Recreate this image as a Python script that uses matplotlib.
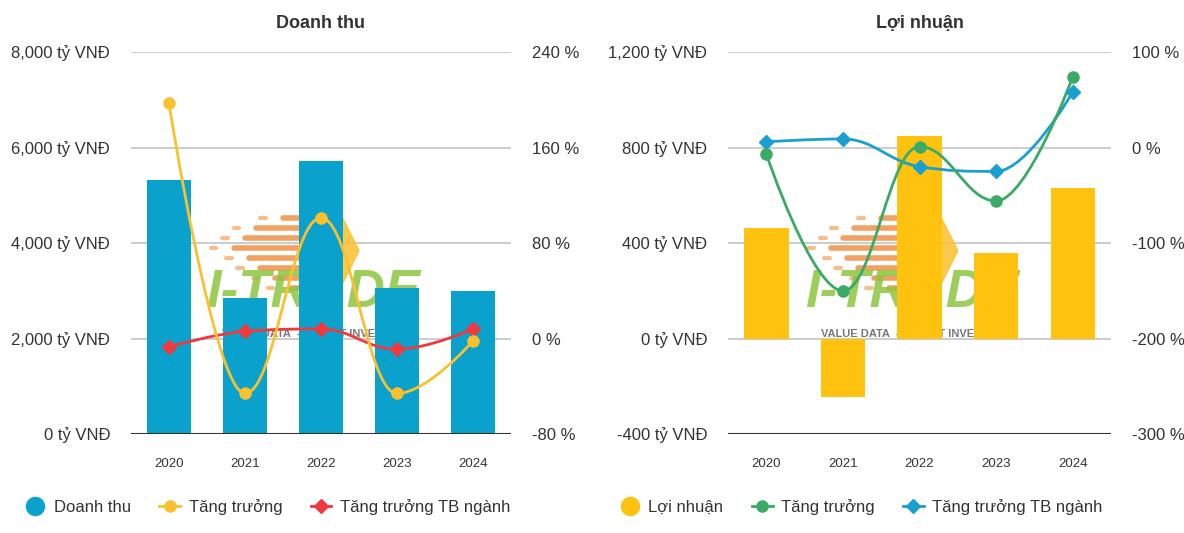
import numpy as np
import matplotlib
matplotlib.use("Agg")
import matplotlib.pyplot as plt
from matplotlib.path import Path
from matplotlib.patches import PathPatch, Polygon
from matplotlib.lines import Line2D

plt.rcParams["font.family"] = ["Liberation Sans", "DejaVu Sans"]

years = ["2020", "2021", "2022", "2023", "2024"]

# Doanh thu (ty VND) and growth (%)
revenue = [5320, 2850, 5720, 3060, 3000]
revenue_growth = [197, -46, 101, -46, -2]
revenue_industry = [-7, 6, 8, -9, 8]

# Loi nhuan (ty VND) and growth (%)
profit = [465, -243, 850, 360, 632]
profit_growth = [-7, -150, 1, -56, 74]
profit_industry = [6, 9, -20, -25, 58]

TEXT = "#333333"
GRID = "#c4c4c4"


def spline_path(xs, ys):
    # Highcharts-style spline through the points
    n = len(xs)
    lc = [(xs[i], ys[i]) for i in range(n)]
    rc = [(xs[i], ys[i]) for i in range(n)]
    for i in range(1, n - 1):
        x, y = xs[i], ys[i]
        lx, ly = xs[i - 1], ys[i - 1]
        nx, ny = xs[i + 1], ys[i + 1]
        lcx = (1.5 * x + lx) / 2.5
        lcy = (1.5 * y + ly) / 2.5
        rcx = (1.5 * x + nx) / 2.5
        rcy = (1.5 * y + ny) / 2.5
        if rcx != lcx:
            corr = ((rcy - lcy) * (rcx - x)) / (rcx - lcx) + y - rcy
            lcy += corr
            rcy += corr
        if lcy > ly and lcy > y:
            lcy = max(ly, y)
            rcy = 2 * y - lcy
        elif lcy < ly and lcy < y:
            lcy = min(ly, y)
            rcy = 2 * y - lcy
        if rcy > ny and rcy > y:
            rcy = max(ny, y)
            lcy = 2 * y - rcy
        elif rcy < ny and rcy < y:
            rcy = min(ny, y)
            lcy = 2 * y - rcy
        lc[i] = (lcx, lcy)
        rc[i] = (rcx, rcy)
    verts = [(xs[0], ys[0])]
    codes = [Path.MOVETO]
    for i in range(1, n):
        verts += [rc[i - 1], lc[i], (xs[i], ys[i])]
        codes += [Path.CURVE4] * 3
    return Path(verts, codes)


def watermark(ax):
    # I-TRADE logo, roughly: orange speed stripes, yellow chevron, green text
    stripes = [(0.40, 0.54), (0.33, 0.54), (0.30, 0.55), (0.27, 0.55),
               (0.31, 0.55), (0.34, 0.55), (0.38, 0.55), (0.42, 0.54)]
    for k, (x0, x1) in enumerate(stripes):
        y = 0.565 - k * 0.026
        ax.plot([x0, x1], [y, y], transform=ax.transAxes, color="#f08a3c",
                lw=4, alpha=0.8, solid_capstyle="round", zorder=0.5)
        ax.plot([x0 - 0.06, x0 - 0.045], [y, y], transform=ax.transAxes,
                color="#f5a35a", lw=3, alpha=0.7, solid_capstyle="round", zorder=0.5)
    ax.add_patch(Polygon([(0.55, 0.58), (0.60, 0.48), (0.55, 0.38)], closed=True,
                         transform=ax.transAxes, color="#fbc02d", alpha=0.85, zorder=0.5))
    ax.text(0.48, 0.37, "I-TRADE", transform=ax.transAxes, fontsize=38,
            fontweight="bold", fontstyle="italic", color="#8cc63f", alpha=0.85,
            ha="center", va="center", zorder=0.5)
    ax.text(0.46, 0.262, "VALUE DATA  -  SMART INVEST", transform=ax.transAxes,
            fontsize=8, fontweight="bold", color="#777777", ha="center", va="center",
            zorder=0.5)


def draw_panel(ax, title, bars, bar_color, ylim, yticks, g1, c1, m1, g2, c2, m2,
               rlim, rticks, names, legend_x):
    x = np.arange(len(years))
    ax.set_xlim(-0.5, len(years) - 0.5)
    ax.set_ylim(*ylim)
    ax.set_yticks(yticks)
    ax.set_yticklabels([f"{v:,.0f} tỷ VNĐ" for v in yticks], fontsize=12, color=TEXT)
    ax.set_xticks(x)
    ax.set_xticklabels(years, fontsize=9.5, color=TEXT)
    ax.tick_params(axis="both", length=0)
    ax.tick_params(axis="y", pad=15)
    ax.tick_params(axis="x", pad=17)
    for t in yticks[1:]:
        ax.axhline(t, color=GRID, lw=1.2, zorder=0)
    ax.axhline(yticks[0], color="#333333", lw=1.5, zorder=3)
    for s in ax.spines.values():
        s.set_visible(False)

    watermark(ax)

    ax.bar(x, bars, width=0.58, color=bar_color, zorder=2)

    ax2 = ax.twinx()
    ax2.set_ylim(*rlim)
    ax2.set_yticks(rticks)
    ax2.set_yticklabels([f"{v:.0f} %" for v in rticks], fontsize=12, color=TEXT)
    ax2.tick_params(axis="y", length=0, pad=15)
    for s in ax2.spines.values():
        s.set_visible(False)

    for vals, col, mk, ms in [(g2, c2, m2, 7), (g1, c1, m1, 8)]:
        p = spline_path(list(x.astype(float)), [float(v) for v in vals])
        ax2.add_patch(PathPatch(p, facecolor="none", edgecolor=col, lw=2, zorder=4))
        ax2.plot(x, vals, linestyle="none", marker=mk, color=col, markersize=ms, zorder=5)

    ax.set_title(title, fontsize=13, fontweight="bold", color=TEXT, pad=17)

    handles = [
        Line2D([], [], linestyle="none", marker="o", markersize=13, color=bar_color),
        Line2D([], [], color=c1, lw=2, marker=m1, markersize=8),
        Line2D([], [], color=c2, lw=2, marker=m2, markersize=7),
    ]
    fig.legend(handles, names, loc="center left", bbox_to_anchor=(legend_x, 0.049),
               ncol=3, frameon=False, fontsize=12, handlelength=1.25, columnspacing=1.7,
               handletextpad=0.5, borderpad=0, borderaxespad=0, labelcolor=TEXT)


fig = plt.figure(figsize=(11.84, 5.33), dpi=100)
ax_l = fig.add_axes([0.1106, 0.1857, 0.321, 0.7167])
ax_r = fig.add_axes([0.6149, 0.1857, 0.3235, 0.7167])

draw_panel(ax_l, "Doanh thu", revenue, "#0aa2cc", (0, 8000), [0, 2000, 4000, 6000, 8000],
           revenue_growth, "#fbc02d", "o", revenue_industry, "#f0393c", "D",
           (-80, 240), [-80, 0, 80, 160, 240],
           ["Doanh thu", "Tăng trưởng", "Tăng trưởng TB ngành"], 0.021)

draw_panel(ax_r, "Lợi nhuận", profit, "#ffc20e", (-400, 1200), [-400, 0, 400, 800, 1200],
           profit_growth, "#3aaa66", "o", profit_industry, "#1a9fd0", "D",
           (-300, 100), [-300, -200, -100, 0, 100],
           ["Lợi nhuận", "Tăng trưởng", "Tăng trưởng TB ngành"], 0.523)

fig.savefig("out.png", dpi=100)
